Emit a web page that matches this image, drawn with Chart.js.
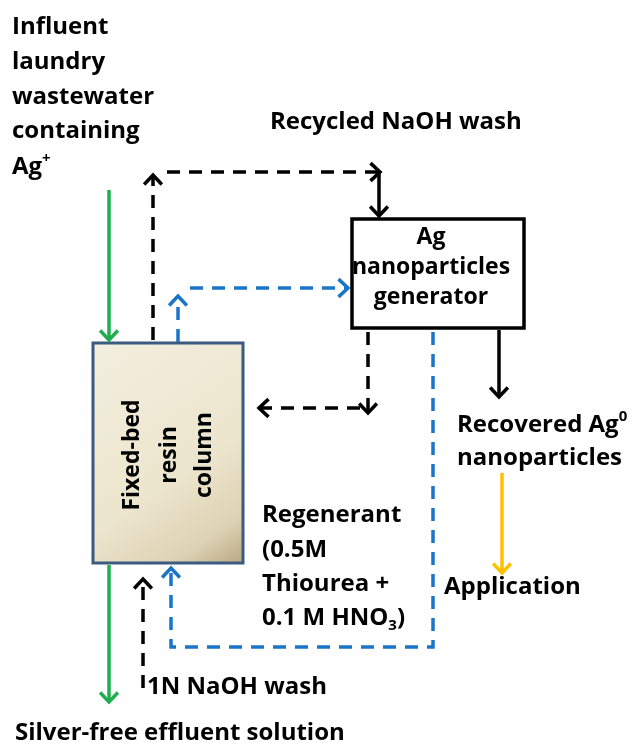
<!DOCTYPE html>
<html>
<head>
<meta charset="utf-8">
<script src="https://cdn.jsdelivr.net/npm/chart.js@4.4.1/dist/chart.umd.min.js"></script>
<style>
  html, body { margin: 0; padding: 0; background: #fff; }
  canvas { display: block; }
</style>
</head>
<body>
<canvas id="flow" width="632" height="745"></canvas>
<script>
// diagram coordinates (x to the right, y downward, in page units)
const greenIn = [[109, 190], [109, 340]];
const greenOut = [[109, 565], [109, 702]];
const washUp = [[153, 340], [153, 175]];
const washAcross = [[167, 172], [380, 172]];
const washDown = [[379, 172], [379, 216]];
const blueUp = [[178, 342], [178, 296]];
const blueAcross = [[190, 288], [348, 288]];
const blackDown = [[368, 332], [368, 413]];
const blackBack = [[360, 408], [259, 408]];
const agOut = [[499, 330], [499, 397]];
const appArrow = [[502, 473], [502, 573]];
const regenLoop = [[433, 332], [433, 647], [171, 647], [171, 568]];
const naohUp = [[143, 688], [143, 579]];

const columnBox = [93, 343, 243, 563];
const generatorBox = [352, 219, 524, 328];

const leftLines = ["Influent", "laundry", "wastewater", "containing", "Ag"];
const leftY = [27, 62, 97, 131, 167];
const columnLines = ["Fixed-bed", "resin", "column"];
const columnX = [132, 169, 204];
const genLines = ["Ag", "nanoparticles", "generator"];
const genY = [237, 267, 297];
const regenLines = ["Regenerant", "(0.5M", "Thiourea +", "0.1 M HNO"];
const regenY = [515, 550, 584, 618];

const GREEN = "#1fae4f";
const BLUE = "#1a75c9";
const BLACK = "#000000";
const ORANGE = "#ffc000";
const FONT = 'bold 24px "Open Sans"';
const BOX_FONT = 'bold 23px "Open Sans"';
const SMALL = 'bold 15px "Open Sans"';

function seg(pts, color, dashed) {
    return {
        data: pts.map(p => ({ x: p[0], y: p[1] })),
        borderColor: color,
        borderWidth: 3.5,
        borderDash: dashed ? [13, 9] : [],
        showLine: true,
        pointRadius: 0,
        fill: false,
        tension: 0
    };
}

const datasets = [
    seg(greenIn, GREEN, false),
    seg(greenOut, GREEN, false),
    seg(washUp, BLACK, true),
    seg(washAcross, BLACK, true),
    seg(washDown, BLACK, false),
    seg(blueUp, BLUE, true),
    seg(blueAcross, BLUE, true),
    seg(blackDown, BLACK, true),
    seg(blackBack, BLACK, true),
    seg(agOut, BLACK, false),
    seg(appArrow, ORANGE, false),
    seg(regenLoop, BLUE, true),
    seg(naohUp, BLACK, true)
];

function px(chart, x, y) {
    return [chart.scales.x.getPixelForValue(x), chart.scales.y.getPixelForValue(y)];
}

function label(ctx, parts, x, y, align, font) {
    // parts: [text, mode] where mode is "", "sup" or "sub"
    const main = font || FONT;
    ctx.textBaseline = "middle";
    ctx.textAlign = "left";
    let total = 0;
    parts.forEach(p => {
        ctx.font = p[1] ? SMALL : main;
        total += ctx.measureText(p[0]).width;
    });
    let cx = align === "center" ? x - total / 2 : x;
    parts.forEach(p => {
        ctx.font = p[1] ? SMALL : main;
        let dy = p[1] === "sup" ? -8 : p[1] === "sub" ? 8 : 0;
        ctx.fillText(p[0], cx, y + dy);
        cx += ctx.measureText(p[0]).width;
    });
}

const diagram = {
    id: "diagram",
    beforeDatasetsDraw(chart) {
        const ctx = chart.ctx;
        ctx.save();
        // resin column
        let a = px(chart, columnBox[0], columnBox[1]);
        let b = px(chart, columnBox[2], columnBox[3]);
        const g = ctx.createLinearGradient(a[0], a[1], b[0], b[1]);
        g.addColorStop(0, "#f3efdf");
        g.addColorStop(0.6, "#ece5cd");
        g.addColorStop(0.85, "#ddd2b4");
        g.addColorStop(1, "#b9a883");
        ctx.fillStyle = g;
        ctx.fillRect(a[0], a[1], b[0] - a[0], b[1] - a[1]);
        ctx.strokeStyle = "#3b5b80";
        ctx.lineWidth = 3;
        ctx.strokeRect(a[0], a[1], b[0] - a[0], b[1] - a[1]);
        // generator
        a = px(chart, generatorBox[0], generatorBox[1]);
        b = px(chart, generatorBox[2], generatorBox[3]);
        ctx.fillStyle = "#fff";
        ctx.fillRect(a[0], a[1], b[0] - a[0], b[1] - a[1]);
        ctx.strokeStyle = "#000";
        ctx.lineWidth = 3.5;
        ctx.strokeRect(a[0], a[1], b[0] - a[0], b[1] - a[1]);
        ctx.restore();
    },
    afterDatasetsDraw(chart) {
        const ctx = chart.ctx;
        ctx.save();
        // arrow heads at the end of every flow line
        chart.data.datasets.forEach((ds, i) => {
            const pts = chart.getDatasetMeta(i).data;
            const p1 = pts[pts.length - 2], p2 = pts[pts.length - 1];
            const ang = Math.atan2(p2.y - p1.y, p2.x - p1.x);
            const len = 13, spread = 0.75;
            ctx.strokeStyle = ds.borderColor;
            ctx.lineWidth = 3.5;
            ctx.setLineDash([]);
            ctx.lineJoin = "miter";
            ctx.beginPath();
            ctx.moveTo(p2.x - len * Math.cos(ang - spread), p2.y - len * Math.sin(ang - spread));
            ctx.lineTo(p2.x, p2.y);
            ctx.lineTo(p2.x - len * Math.cos(ang + spread), p2.y - len * Math.sin(ang + spread));
            ctx.stroke();
        });

        ctx.fillStyle = "#000";
        leftLines.forEach((t, i) => {
            const p = px(chart, 12, leftY[i]);
            label(ctx, i === 4 ? [[t, ""], ["+", "sup"]] : [[t, ""]], p[0], p[1]);
        });
        let p = px(chart, 270, 122);
        label(ctx, [["Recycled NaOH wash", ""]], p[0], p[1]);
        genLines.forEach((t, i) => {
            const q = px(chart, 431, genY[i]);
            label(ctx, [[t, ""]], q[0], q[1], "center", BOX_FONT);
        });
        columnLines.forEach((t, i) => {
            const q = px(chart, columnX[i], 455);
            ctx.save();
            ctx.translate(q[0], q[1]);
            ctx.rotate(-Math.PI / 2);
            label(ctx, [[t, ""]], 0, 0, "center", BOX_FONT);
            ctx.restore();
        });
        p = px(chart, 457, 425);
        label(ctx, [["Recovered Ag", ""], ["0", "sup"]], p[0], p[1]);
        p = px(chart, 457, 458);
        label(ctx, [["nanoparticles", ""]], p[0], p[1]);
        p = px(chart, 444, 587);
        label(ctx, [["Application", ""]], p[0], p[1]);
        regenLines.forEach((t, i) => {
            const q = px(chart, 262, regenY[i]);
            label(ctx, i === 3 ? [[t, ""], ["3", "sub"], [")", ""]] : [[t, ""]], q[0], q[1]);
        });
        p = px(chart, 147, 687);
        label(ctx, [["1N NaOH wash", ""]], p[0], p[1]);
        p = px(chart, 15, 733);
        label(ctx, [["Silver-free effluent solution", ""]], p[0], p[1]);
        ctx.restore();
    }
};

new Chart(document.getElementById("flow"), {
    type: "scatter",
    data: { datasets: datasets },
    options: {
        responsive: false,
        animation: false,
        layout: { padding: 0 },
        plugins: { legend: { display: false }, tooltip: { enabled: false } },
        scales: {
            x: { type: "linear", min: 0, max: 632, display: false },
            y: { type: "linear", min: 0, max: 745, reverse: true, display: false }
        }
    },
    plugins: [diagram]
});
</script>
</body>
</html>
